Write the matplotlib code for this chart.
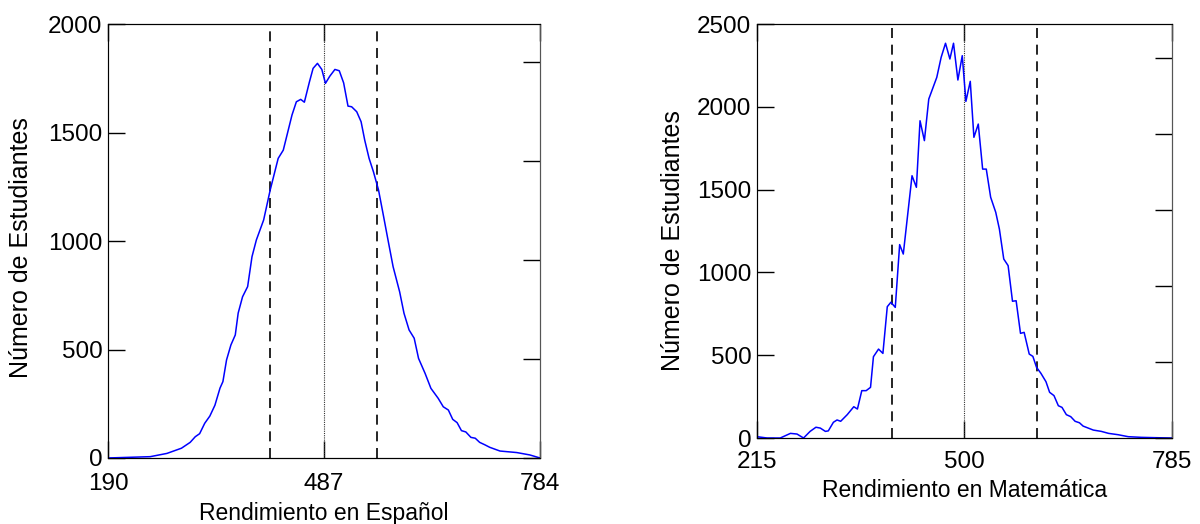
import matplotlib.pyplot as plt
import numpy as np

plt.rcParams['font.family'] = ['Liberation Sans', 'DejaVu Sans']

# Español
esp_x = [190, 248, 271, 291, 303, 310, 316, 323, 330, 337, 344, 348, 353, 359, 365, 369,
         375, 382, 388, 394, 404, 413, 424, 431, 443, 449, 455, 460, 467, 472, 478, 484,
         489, 495, 502, 508, 514, 520, 525, 532, 538, 543, 549, 555, 562, 569, 575, 582,
         591, 597, 604, 611, 617, 626, 634, 644, 651, 658, 664, 670, 676, 682, 689, 695,
         701, 708, 715, 729, 752, 770, 784]
esp_y = [0, 6, 21, 45, 72, 98, 112, 160, 193, 243, 322, 352, 452, 521, 567, 668,
         743, 790, 928, 1005, 1097, 1235, 1381, 1419, 1581, 1642, 1653, 1640, 1734, 1796, 1819, 1791,
         1727, 1760, 1791, 1785, 1729, 1622, 1619, 1596, 1550, 1465, 1381, 1319, 1235, 1112, 1005, 882,
         766, 667, 590, 552, 459, 390, 321, 275, 236, 221, 178, 163, 126, 120, 95, 91,
         72, 61, 49, 32, 25, 14, 0]
esp_ticks = [190, 487, 784]
esp_mean = 487
esp_lo, esp_hi = 413, 560

# Matemática
mat_x = [215, 229, 247, 261, 270, 279, 288, 296, 302, 309, 313, 320, 325, 330, 339, 348,
         353, 359, 365, 371, 375, 382, 388, 394, 399, 405, 411, 416, 428, 434, 439, 445,
         451, 462, 468, 474, 480, 485, 491, 497, 502, 508, 513, 519, 525, 530, 536, 543,
         548, 554, 560, 566, 571, 577, 582, 589, 594, 599, 605, 612, 617, 623, 629, 634,
         640, 646, 652, 658, 663, 670, 677, 688, 698, 711, 725, 743, 762, 785]
mat_y = [8, 0, 0, 28, 24, 0, 40, 65, 60, 40, 43, 95, 109, 101, 141, 189,
         175, 286, 286, 306, 491, 537, 511, 793, 820, 789, 1168, 1111, 1584, 1514, 1916, 1796,
         2047, 2178, 2299, 2384, 2289, 2384, 2162, 2309, 2033, 2154, 1816, 1896, 1624, 1624, 1454, 1363,
         1262, 1081, 1041, 826, 829, 632, 638, 507, 493, 427, 391, 340, 276, 256, 195, 185,
         141, 129, 101, 92, 72, 60, 48, 40, 28, 20, 8, 4, 2, 0]
mat_ticks = [215, 500, 785]
mat_mean = 500
mat_lo, mat_hi = 400, 600

tick_fs = 17.5
label_fs = 16.5
ylabel_fs = 18

fig = plt.figure(figsize=(12, 5.24), dpi=100)


def panel(rect, x, y, xticks, ymax, yticks, mean, lo, hi, xlabel, nright,
          xpad, xlab_y, ylab_xy):
    ax = fig.add_axes(rect)
    ax.plot(x, y, color='#0000ff', linewidth=1.1, zorder=3)
    ax.axvline(lo, color='black', linestyle=(0, (6, 4)), linewidth=1.2)
    ax.axvline(hi, color='black', linestyle=(0, (6, 4)), linewidth=1.2)
    ax.axvline(mean, color='#333333', linestyle=(0, (1, 1)), linewidth=0.8)
    ax.set_xlim(xticks[0], xticks[-1])
    ax.set_ylim(0, ymax)
    ax.set_xticks(xticks)
    ax.set_yticks(yticks)
    ax.tick_params(direction='in', length=12, width=1, labelsize=tick_fs,
                   top=True, right=False)
    ax.tick_params(axis='x', pad=xpad)
    ax.tick_params(axis='y', pad=4)
    ax.set_xlabel(xlabel, fontsize=label_fs)
    ax.set_ylabel('Número de Estudiantes', fontsize=ylabel_fs)
    ax.xaxis.set_label_coords(0.5, xlab_y)
    ax.yaxis.set_label_coords(*ylab_xy)
    for s in ['left', 'right']:
        ax.spines[s].set_color('#555555')
    ax2 = ax.twinx()
    ax2.set_ylim(0, nright)
    ax2.set_yticks(range(int(nright) + 1))
    ax2.tick_params(direction='in', length=12, width=1, labelright=False)
    ax2.spines['right'].set_color('#555555')
    return ax


panel([0.09, 0.126, 0.36, 0.828], esp_x, esp_y, esp_ticks, 2000,
      [0, 500, 1000, 1500, 2000], esp_mean, esp_lo, esp_hi,
      'Rendimiento en Español', 4.38, 10.5, -0.101, (-0.174, 0.485))
panel([0.6308, 0.1641, 0.3458, 0.790], mat_x, mat_y, mat_ticks, 2500,
      [0, 500, 1000, 1500, 2000, 2500], mat_mean, mat_lo, mat_hi,
      'Rendimiento en Matemática', 5.45, 9, -0.099, (-0.173, 0.478))

plt.savefig('out.png', dpi=100)
